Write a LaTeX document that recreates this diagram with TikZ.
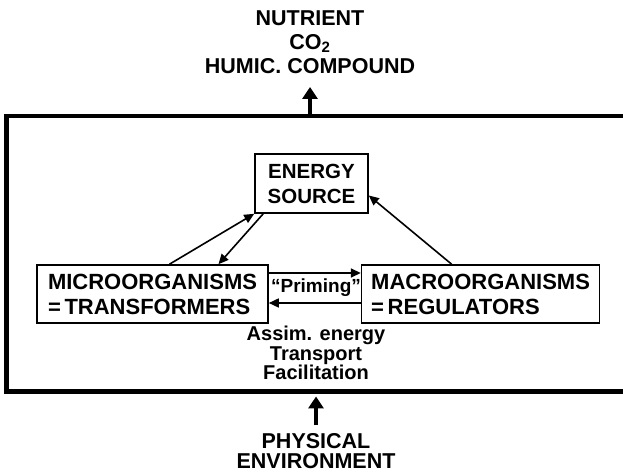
\documentclass[tikz,border=0pt]{standalone}
\usepackage{fontspec}
\setmainfont{Liberation Sans}
\usetikzlibrary{arrows.meta, positioning}
\newcommand{\tightlines}{\lineskiplimit=-20pt\relax}
\tikzset{
  box/.style = {draw, line width=1.6pt, inner sep=0pt, align=center,
                font=\fontsize{22}{25}\selectfont\bfseries},
  frame/.style = {line width=4.5pt},
  link/.style = {line width=1.6pt, arrows={-Triangle[length=10pt, width=9pt]}},
  flow/.style = {line width=4.5pt, arrows={-Triangle[length=12pt, width=15pt]}},
  caption/.style = {inner sep=0pt, align=center,
                    font=\fontsize{21.5}{24}\selectfont\bfseries},
}

\begin{document}
\begin{tikzpicture}[x=1pt, y=1pt]
  \useasboundingbox (0,0) rectangle (623,473);

  % Open frame round the system
  \coordinate (frameout) at (625,357);
  \coordinate (framein) at (625,81.5);
  \draw [frame] (frameout) -- (6.5,357) -- (6.5,81.5) -- (framein);
  \coordinate (frametop) at (310,357);
  \coordinate (framebot) at (316,81.5);

  % The three compartments
  \node (energy) [box, minimum width=113pt, minimum height=59pt,
                  font=\fontsize{20.5}{25}\selectfont\bfseries]
    at (311.5,289.5) {ENERGY\\SOURCE};
  \node (micro) [box, align=left, minimum width=231pt, minimum height=58pt]
    at (152.5,179) {MICROORGANISMS\\=\,TRANSFORMERS};
  \node (macro) [box, align=left, minimum width=238pt, minimum height=58pt,
                 right=92pt of micro] {MACROORGANISMS\\=\,REGULATORS};

  \draw [link] ([xshift=17pt]micro.north) -- (energy.south west);
  \draw [link] ([xshift=9pt]energy.south west) -- ([xshift=66pt]micro.north);
  \draw [link] ([xshift=-29pt]macro.north) -- ([yshift=-12pt]energy.east);

  \draw [link] ([yshift=21pt]micro.east) -- ([yshift=21pt]macro.west);
  \draw [link] ([yshift=-9pt]macro.west) -- ([yshift=-9pt]micro.east);
  \node (priming) [caption, font=\fontsize{19}{22}\selectfont\bfseries]
    at (316,185) {``Priming''};
  \node (transfer) [caption, anchor=north,
                    font={\fontsize{20}{19.5}\selectfont\bfseries\tightlines}]
    at (316,147) {Assim. energy\\Transport\\Facilitation};

  % Inputs and outputs
  \node (output) [caption, above=42pt of frametop]
    {NUTRIENT\\CO\textsubscript{2}\\HUMIC. COMPOUND};
  \draw [flow] (frametop) -- ([yshift=-13pt]output.south);

  \node (input) [caption, below=42pt of framebot,
                 font=\fontsize{21.5}{20}\selectfont\bfseries]
    {PHYSICAL\\ENVIRONMENT};
  \draw [flow] ([yshift=8pt]input.north) -- ([yshift=-5pt]framebot);
\end{tikzpicture}
\end{document}
